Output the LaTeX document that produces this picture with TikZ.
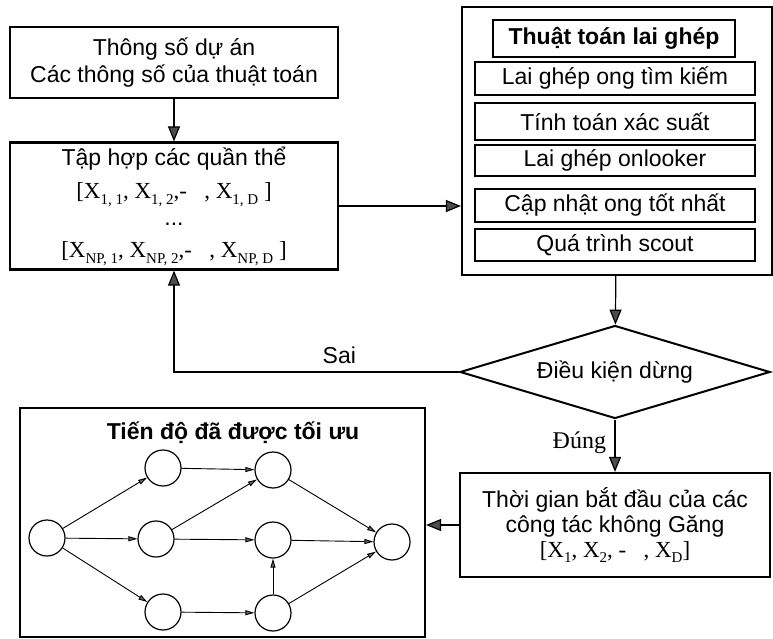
\documentclass[tikz,border=0pt]{standalone}
\usepackage{fontspec}
\setmainfont{Liberation Sans}
\newfontfamily\tnr{Liberation Serif}
\usepackage{tikz}
\usetikzlibrary{positioning,arrows.meta,shapes.geometric}
\newcommand{\lowidx}[1]{\raisebox{-0.25em}{\fontsize{15}{15}\selectfont #1}}

\begin{document}
\begin{tikzpicture}[x=1pt, y=-1pt,
    font=\fontsize{23}{27}\selectfont,
    box/.style={rectangle, draw, line width=2.2pt, align=center, inner sep=0pt},
    subbox/.style={rectangle, draw, line width=1.3pt, minimum width=280pt, inner sep=0pt},
    ev/.style={circle, draw, line width=1.2pt, minimum size=36pt, inner sep=0pt},
    arrow/.style={-{Triangle[length=15pt, width=12pt, fill=black!70]}, line width=1.2pt},
    link/.style={-{Triangle[length=9pt, width=5pt, fill=black!60]}, line width=0.9pt}
]
    \useasboundingbox (0,0) rectangle (773,639);

    \node[box, minimum width=328pt, minimum height=71pt] (param) at (174,62.5) {Thông số dự án\\ Các thông số của thuật toán};
    \node[box, minimum width=328pt, minimum height=127pt, font=\fontsize{23}{31}\selectfont] (pop) at (174,206)
        {Tập hợp các quần thể\\[2pt]
         {\tnr [X\lowidx{1, 1}, X\lowidx{1, 2},-\ \ \ , X\lowidx{1, D} ]}\\[-4pt]
         ...\\[1pt]
         {\tnr [X\lowidx{NP, 1}, X\lowidx{NP, 2},-\ \ \ , X\lowidx{NP, D} ]}};

    % hybrid algorithm block
    \node[box, minimum width=310pt, minimum height=268pt] (algo) at (617,141) {};
    \node[subbox, minimum width=242pt, minimum height=37pt, font=\fontsize{23}{27}\selectfont\bfseries] (title) at (614,38.5) {Thuật toán lai ghép};
    \node[subbox, minimum height=33pt] (employ) at (615,78.5) {Lai ghép ong tìm kiếm};
    \node[subbox, minimum height=37pt] (prob) at (615,121.5) {Tính toán xác suất};
    \node[subbox, minimum height=31pt] (onlook) at (615,160.5) {Lai ghép onlooker};
    \node[subbox, minimum height=33pt] (best) at (615,205.5) {Cập nhật ong tốt nhất};
    \node[subbox, minimum height=32pt] (scout) at (615,245) {Quá trình scout};

    \node[diamond, draw, line width=2pt, aspect=3.3, minimum width=310pt, minimum height=93pt, inner sep=0pt] (cond) at (615,372) {Điều kiện dừng};

    \node[box, minimum width=310pt, minimum height=104pt, font=\fontsize{23}{25}\selectfont] (start) at (615,525)
        {Thời gian bắt đầu của các\\ công tác không Găng\\
         {\tnr [X\lowidx{1}, X\lowidx{2}, -\ \ \ , X\lowidx{D}]}};

    % optimized schedule
    \node[box, minimum width=405pt, minimum height=229pt] (net) at (222.5,522.5) {};
    \node[font=\fontsize{23}{27}\selectfont\bfseries] (nettitle) at (233,433) {Tiến độ đã được tối ưu};
    \node[ev] (a) at (47,538) {};
    \node[ev] (b1) at (163,468) {};
    \node[ev] (b2) at (156,539) {};
    \node[ev] (b3) at (163,612) {};
    \node[ev] (c1) at (273,470) {};
    \node[ev] (c2) at (273,540) {};
    \node[ev] (c3) at (273,613) {};
    \node[ev] (d) at (392,542) {};

    \draw[link] (a) -- (b1);
    \draw[link] (a) -- (b2);
    \draw[link] (a) -- (b3);
    \draw[link] (b1) -- (c1);
    \draw[link] (b2) -- (c1);
    \draw[link] (b2) -- (c2);
    \draw[link] (b3) -- (c3);
    \draw[link] (c3) -- (c2);
    \draw[link] (c1) -- (d);
    \draw[link] (c2) -- (d);
    \draw[link] (c3) -- (d);

    % flow
    \draw[arrow] (param) -- (pop);
    \draw[arrow] (pop.east) -- (pop.east -| algo.west);
    \draw[arrow] (algo) -- (cond);
    \draw[arrow] (cond.west) -| (pop.south) node[pos=0.21, above=4pt] (sai) {Sai};
    \draw[arrow] (cond) -- (start) node[pos=0.45, left=5pt, font=\fontsize{24}{27}\selectfont\tnr] (dung) {Đúng};
    \draw[arrow] (start.west) -- (start.west -| net.east);
\end{tikzpicture}
\end{document}
